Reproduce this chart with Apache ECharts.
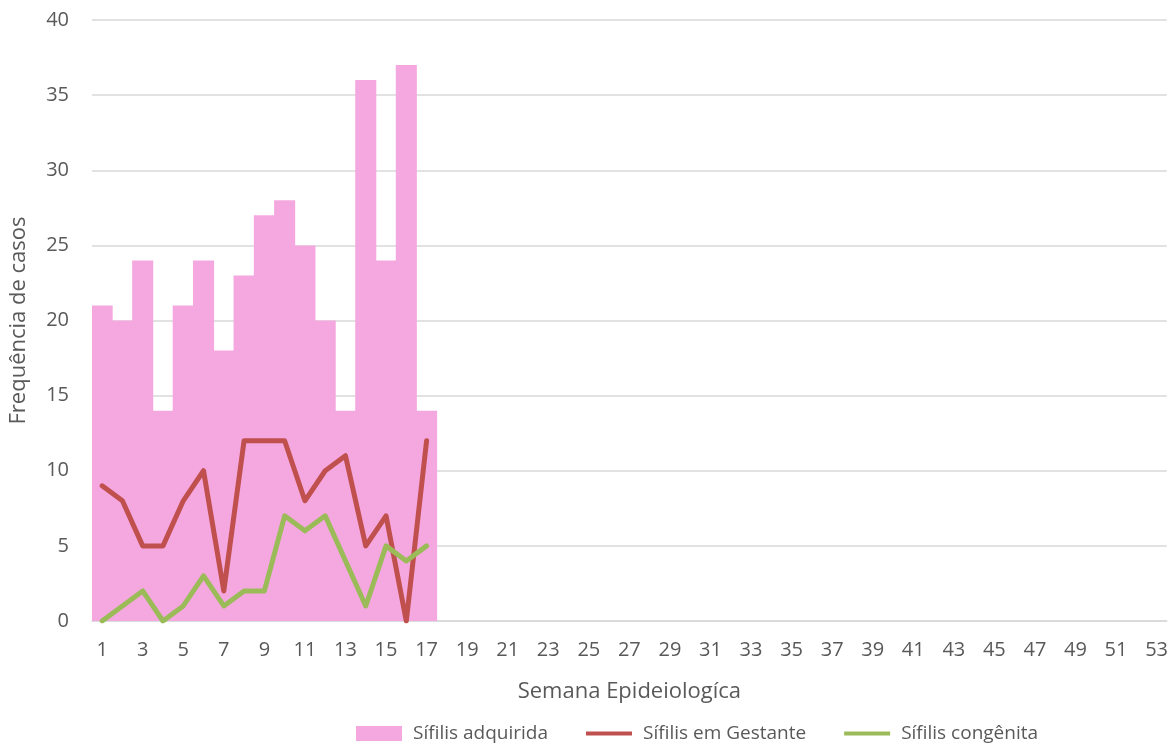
<!DOCTYPE html>
<html>
<head>
<meta charset="utf-8">
<script src="https://cdn.jsdelivr.net/npm/echarts@6/dist/echarts.min.js"></script>
<style>
  html, body { margin: 0; padding: 0; background: #fff; }
  #chart { width: 1171px; height: 744px; }
</style>
</head>
<body>
<div id="chart"></div>
<script>
// semanas epidemiológicas 1..53
var semanas = [];
for (var i = 1; i <= 53; i++) { semanas.push(String(i)); }

var adquirida = [21, 20, 24, 14, 21, 24, 18, 23, 27, 28, 25, 20, 14, 36, 24, 37, 14];
var gestante  = [9, 8, 5, 5, 8, 10, 2, 12, 12, 12, 8, 10, 11, 5, 7, 0, 12];
var congenita = [0, 1, 2, 0, 1, 3, 1, 2, 2, 7, 6, 7, 4, 1, 5, 4, 5];

var fonte = '"Open Sans", "Liberation Sans", sans-serif';
var cinza = '#595959';
var rosa = '#f4a8df', vermelho = '#c0504d', verde = '#9bbb59';
// ícone de linha simples na legenda (sem marcador)
var iconeLinha = 'path://M0,0 L100,0 L100,9 L0,9 Z';

var myChart = echarts.init(document.getElementById('chart'));
myChart.setOption({
    animation: false,
    textStyle: { fontFamily: fonte },
    grid: { left: 90, right: 3, top: 20, bottom: 123 },
    legend: {
        left: 351,
        top: 719,
        itemGap: 38,
        itemWidth: 46,
        itemHeight: 15,
        textStyle: { color: cinza, fontSize: 19, fontFamily: fonte, padding: [0, 0, 0, 6] },
        data: [
            { name: 'Sífilis adquirida', icon: 'rect' },
            { name: 'Sífilis em Gestante', icon: iconeLinha },
            { name: 'Sífilis congênita', icon: iconeLinha }
        ]
    },
    xAxis: {
        type: 'category',
        data: semanas,
        name: 'Semana Epideiologíca',
        nameLocation: 'middle',
        nameGap: 60,
        nameTextStyle: { color: cinza, fontSize: 22 },
        axisLine: { lineStyle: { color: '#d9d9d9', width: 1.5 } },
        axisTick: { show: false },
        axisLabel: { interval: 1, color: cinza, fontSize: 20, margin: 19 }
    },
    yAxis: {
        type: 'value',
        min: 0,
        max: 40,
        interval: 5,
        name: 'Frequência de casos',
        nameLocation: 'middle',
        nameGap: 62,
        nameTextStyle: { color: cinza, fontSize: 22 },
        axisLine: { show: false },
        axisTick: { show: false },
        axisLabel: { color: cinza, fontSize: 20, margin: 23 },
        splitLine: { lineStyle: { color: '#d9d9d9', width: 1.5 } }
    },
    series: [
        {
            name: 'Sífilis adquirida',
            type: 'bar',
            data: adquirida,
            barCategoryGap: '-4%',
            itemStyle: { color: rosa }
        },
        {
            name: 'Sífilis em Gestante',
            type: 'line',
            data: gestante,
            symbol: 'none',
            lineStyle: { color: vermelho, width: 5, cap: 'round', join: 'round' },
            itemStyle: { color: vermelho }
        },
        {
            name: 'Sífilis congênita',
            type: 'line',
            data: congenita,
            symbol: 'none',
            lineStyle: { color: verde, width: 5, cap: 'round', join: 'round' },
            itemStyle: { color: verde }
        }
    ]
});
</script>
</body>
</html>
